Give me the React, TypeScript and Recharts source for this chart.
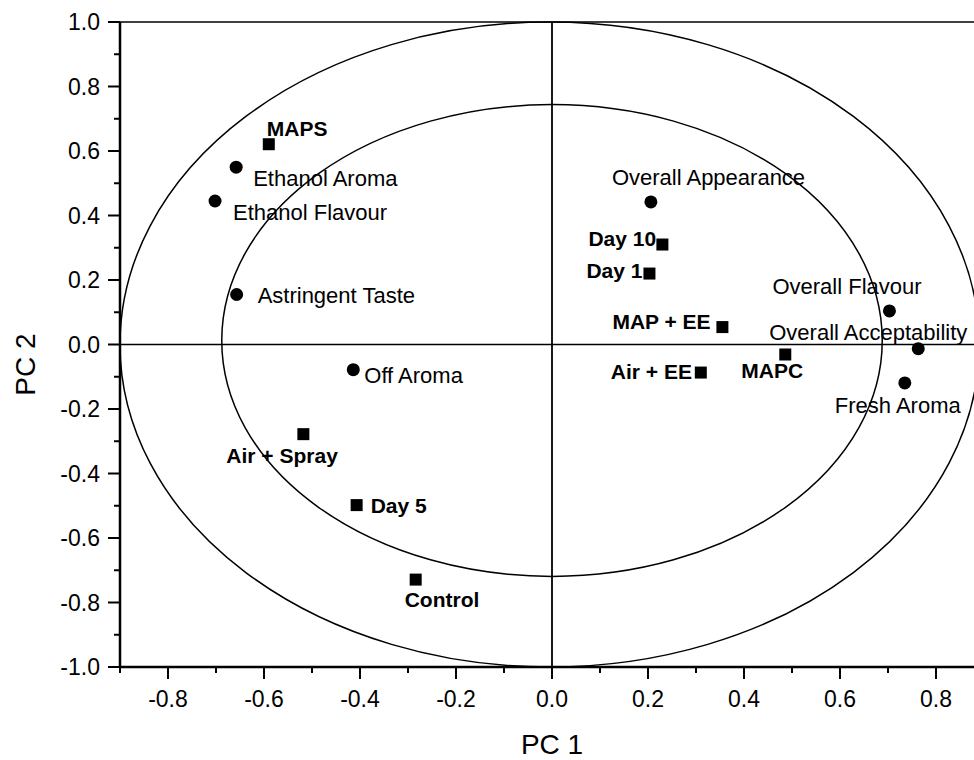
import {
  Label,
  ReferenceArea,
  ReferenceLine,
  Scatter,
  ScatterChart,
  XAxis,
  YAxis,
} from 'recharts'

// sensory attributes (loadings)
const attributeNames = [
  'Ethanol Aroma',
  'Ethanol Flavour',
  'Astringent Taste',
  'Off Aroma',
  'Overall Appearance',
  'Overall Flavour',
  'Overall Acceptability',
  'Fresh Aroma',
]
const attributePC1 = [-0.658, -0.702, -0.657, -0.414, 0.206, 0.703, 0.763, 0.735]
const attributePC2 = [0.55, 0.445, 0.155, -0.078, 0.442, 0.104, -0.013, -0.119]

// treatments / storage days (scores)
const sampleNames = ['MAPS', 'Air + Spray', 'Day 5', 'Control', 'Day 10', 'Day 1', 'MAP + EE', 'Air + EE', 'MAPC']
const samplePC1 = [-0.59, -0.518, -0.407, -0.284, 0.23, 0.203, 0.355, 0.31, 0.486]
const samplePC2 = [0.621, -0.278, -0.498, -0.729, 0.31, 0.22, 0.054, -0.087, -0.031]

const xTicks = [-0.9, -0.8, -0.7, -0.6, -0.5, -0.4, -0.3, -0.2, -0.1, 0, 0.1, 0.2, 0.3, 0.4, 0.5, 0.6, 0.7, 0.8, 0.9]
const yTicks = [-1, -0.9, -0.8, -0.7, -0.6, -0.5, -0.4, -0.3, -0.2, -0.1, 0, 0.1, 0.2, 0.3, 0.4, 0.5, 0.6, 0.7, 0.8, 0.9, 1]

// correlation circles, as bounding boxes in PC units
const outerCircle = { x1: -0.9, x2: 0.89, y1: -1, y2: 1 }
const innerCircle = { x1: -0.688, x2: 0.688, y1: -0.719, y2: 0.744 }

// text placement relative to each marker (px, baseline)
const labelOffsets: Record<string, [number, number]> = {
  'Ethanol Aroma': [17, 19],
  'Ethanol Flavour': [18, 19],
  'Astringent Taste': [21, 8],
  'Off Aroma': [11, 13],
  'Overall Appearance': [-39, -17],
  'Overall Flavour': [-117, -17],
  'Overall Acceptability': [-149, -9],
  'Fresh Aroma': [-70, 30],
  MAPS: [-2, -8],
  'Air + Spray': [-77, 29],
  'Day 5': [14, 8],
  Control: [-11, 27],
  'Day 10': [-74, 1],
  'Day 1': [-63, 4],
  'MAP + EE': [-110, 2],
  'Air + EE': [-90, 6],
  MAPC: [-44, 24],
}

const FONT = '"Liberation Sans", Arial, Helvetica, sans-serif'

const attributes = attributeNames.map((name, i) => ({ name, x: attributePC1[i], y: attributePC2[i] }))
const samples = sampleNames.map((name, i) => ({ name, x: samplePC1[i], y: samplePC2[i] }))

const isMajor = (v: number) => Math.round(v * 10) % 2 === 0

function XTick({ x, y, payload }: any) {
  const major = isMajor(payload.value)
  return (
    <g>
      <line x1={x} x2={x} y1={y} y2={y + (major ? 12 : 6)} stroke="#000" strokeWidth={2} />
      {major && (
        <text x={x} y={y + 40} textAnchor="middle" fontSize={23} fill="#000" fontFamily={FONT}>
          {payload.value.toFixed(1)}
        </text>
      )}
    </g>
  )
}

function YTick({ x, y, payload }: any) {
  const major = isMajor(payload.value)
  return (
    <g>
      <line x1={x - (major ? 12 : 6)} x2={x} y1={y} y2={y} stroke="#000" strokeWidth={2} />
      {major && (
        <text x={x - 20} y={y} dy="0.36em" textAnchor="end" fontSize={23} fill="#000" fontFamily={FONT}>
          {payload.value.toFixed(1)}
        </text>
      )}
    </g>
  )
}

function YTitle({ viewBox }: any) {
  const cx = viewBox.x + 35
  const cy = viewBox.y + viewBox.height / 2 + 20
  return (
    <text
      x={cx}
      y={cy}
      transform={`rotate(-90 ${cx} ${cy})`}
      textAnchor="middle"
      fontSize={28}
      fill="#000"
      fontFamily={FONT}
    >
      PC 2
    </text>
  )
}

function Ellipse({ x, y, width, height }: any) {
  return (
    <ellipse
      cx={x + width / 2}
      cy={y + height / 2}
      rx={Math.abs(width) / 2}
      ry={Math.abs(height) / 2}
      fill="none"
      stroke="#000"
      strokeWidth={1.5}
    />
  )
}

function AttributeDot({ cx, cy, payload }: any) {
  const [dx, dy] = labelOffsets[payload.name] ?? [10, 6]
  return (
    <g>
      <circle cx={cx} cy={cy} r={6.5} fill="#000" />
      <text x={cx + dx} y={cy + dy} fontSize={22} fill="#000" fontFamily={FONT}>
        {payload.name}
      </text>
    </g>
  )
}

function SampleSquare({ cx, cy, payload }: any) {
  const [dx, dy] = labelOffsets[payload.name] ?? [10, 6]
  return (
    <g>
      <rect x={cx - 6} y={cy - 6} width={12} height={12} fill="#000" />
      <text x={cx + dx} y={cy + dy} fontSize={21} fontWeight="bold" fill="#000" fontFamily={FONT}>
        {payload.name}
      </text>
    </g>
  )
}

export default function App() {
  return (
    <div
      style={{
        position: 'fixed',
        left: 0,
        top: 0,
        width: 974,
        height: 760,
        overflow: 'hidden',
        background: '#fff',
        fontFamily: FONT,
      }}
    >
      <ScatterChart width={1000} height={760} margin={{ top: 22, right: 16, bottom: 0, left: 0 }}>
        <XAxis
          type="number"
          dataKey="x"
          domain={[-0.9, 0.9]}
          ticks={xTicks}
          interval={0}
          allowDataOverflow
          height={93}
          tickSize={0}
          tickMargin={0}
          tickLine={false}
          tick={<XTick />}
          axisLine={{ stroke: '#000', strokeWidth: 2.5 }}
        >
          <Label value="PC 1" position="insideBottom" offset={6} fontSize={28} fill="#000" fontFamily={FONT} />
        </XAxis>
        <YAxis
          type="number"
          dataKey="y"
          domain={[-1, 1]}
          ticks={yTicks}
          interval={0}
          allowDataOverflow
          width={120}
          tickSize={0}
          tickMargin={0}
          tickLine={false}
          tick={<YTick />}
          axisLine={{ stroke: '#000', strokeWidth: 2.5 }}
        >
          <Label content={<YTitle />} />
        </YAxis>

        <ReferenceArea {...outerCircle} ifOverflow="visible" shape={<Ellipse />} />
        <ReferenceArea {...innerCircle} ifOverflow="visible" shape={<Ellipse />} />

        <ReferenceLine x={0} stroke="#000" strokeWidth={1.8} />
        <ReferenceLine y={0} stroke="#000" strokeWidth={1.5} />
        <ReferenceLine y={1} stroke="#000" strokeWidth={1.5} />
        <ReferenceLine x={0.9} stroke="#000" strokeWidth={1.5} />

        <Scatter data={attributes} shape={<AttributeDot />} isAnimationActive={false} />
        <Scatter data={samples} shape={<SampleSquare />} isAnimationActive={false} />
      </ScatterChart>
    </div>
  )
}
